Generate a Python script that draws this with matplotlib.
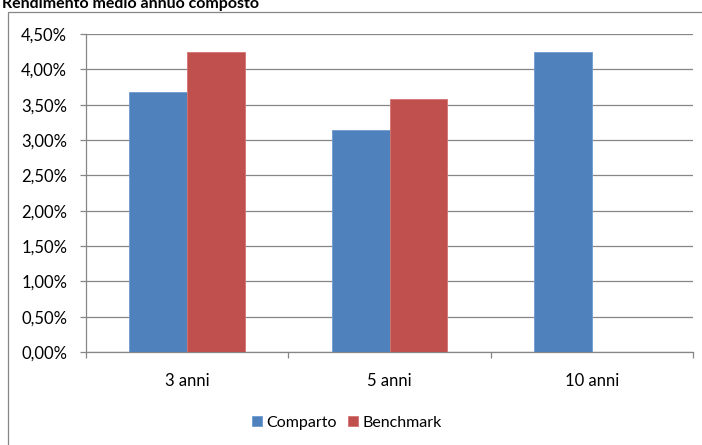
import numpy as np
import matplotlib.pyplot as plt
from matplotlib.patches import Rectangle
from matplotlib.ticker import FuncFormatter

plt.rcParams['font.family'] = ['Lato', 'DejaVu Sans']

categories = ["3 anni", "5 anni", "10 anni"]
comparto = [3.68, 3.14, 4.25]
benchmark = [4.25, 3.58, np.nan]
series_names = ["Comparto", "Benchmark"]

blue = "#4F81BD"
red = "#C0504D"
grid_gray = "#868686"

fig = plt.figure(figsize=(7.02, 4.45), dpi=100)

# outer chart frame, running off the right and bottom edges
fig.patches.append(Rectangle((8 / 702, -0.1), 1.0, 1 - 12 / 445 + 0.1,
                             transform=fig.transFigure, fill=False,
                             edgecolor=grid_gray, linewidth=0.9))
fig.text(2 / 702, 1 - 8 / 445, "Rendimento medio annuo composto",
         fontsize=11.5, fontweight="bold", va="baseline", ha="left")

ax = fig.add_axes([86 / 702, 1 - 352 / 445, (693 - 86) / 702, (352 - 34) / 445])

x = np.arange(len(categories))
w = 1 / 3.5
ax.bar(x - w / 2, comparto, w, color=blue, edgecolor="#6f9ad0", linewidth=0.6,
       label=series_names[0], zorder=3)
ax.bar(x + w / 2, benchmark, w, color=red, edgecolor="#d47371", linewidth=0.6,
       label=series_names[1], zorder=3)

ax.set_xlim(-0.5, len(categories) - 0.5)
ax.set_ylim(0, 4.5)
ax.set_yticks(np.arange(0, 4.51, 0.5))
ax.yaxis.set_major_formatter(FuncFormatter(lambda v, _: f"{v:.2f}%".replace(".", ",")))
ax.yaxis.grid(True, color=grid_gray, linewidth=0.9, zorder=0)

ax.set_xticks(x)
ax.set_xticklabels(categories)
ax.set_xticks(np.arange(-0.5, len(categories)), minor=True)
ax.tick_params(axis="x", which="major", length=0, pad=15, labelsize=12)
ax.tick_params(axis="x", which="minor", length=4, width=0.9, color=grid_gray)
ax.tick_params(axis="y", length=4.5, width=0.9, color=grid_gray, pad=9,
               labelsize=12)

for side in ["top", "right"]:
    ax.spines[side].set_visible(False)
for side in ["left", "bottom"]:
    ax.spines[side].set_color(grid_gray)
    ax.spines[side].set_linewidth(0.9)

fig.legend(loc="center", bbox_to_anchor=(347 / 702, 1 - 423 / 445), ncol=2,
           frameon=False, fontsize=11.5, handlelength=0.6, handleheight=0.6,
           handletextpad=0.3, columnspacing=0.7)

fig.savefig("out.png", dpi=100)
